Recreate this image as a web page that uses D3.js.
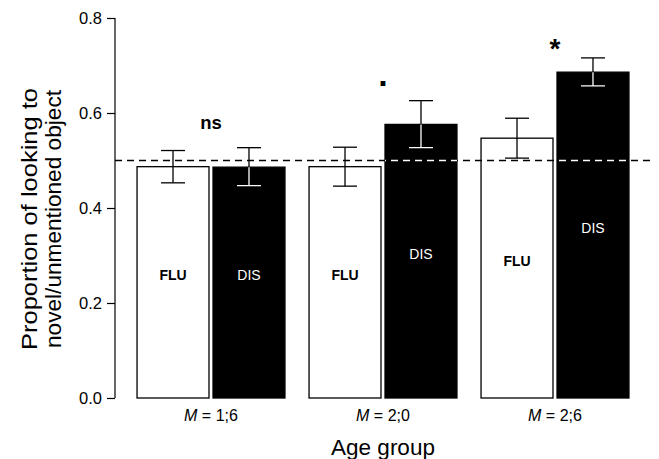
<!DOCTYPE html>
<html>
<head>
<meta charset="utf-8">
<script src="https://cdn.jsdelivr.net/npm/d3@7"></script>
<style>
  body { margin: 0; background: #fff; }
  text { font-family: "Liberation Sans", Arial, Helvetica, sans-serif; }
</style>
</head>
<body>
<div id="chart"></div>
<script>
// data
var groups = ["1;6", "2;0", "2;6"];
var conditions = ["FLU", "DIS"];
var fluMean = [0.487, 0.487, 0.547];
var fluLow  = [0.453, 0.446, 0.505];
var fluHigh = [0.521, 0.528, 0.589];
var disMean = [0.486, 0.576, 0.686];
var disLow  = [0.447, 0.527, 0.657];
var disHigh = [0.527, 0.626, 0.716];
var signif = ["ns", ".", "*"];
var chance = 0.5;
var yTicks = [0, 0.2, 0.4, 0.6, 0.8];

var width = 659, height = 459;

var rows = [];
groups.forEach(function(g, i) {
	rows.push({group: g, cond: "FLU", mean: fluMean[i], lo: fluLow[i], hi: fluHigh[i]});
	rows.push({group: g, cond: "DIS", mean: disMean[i], lo: disLow[i], hi: disHigh[i]});
});

var svg = d3.select("#chart").append("svg").attr("width", width).attr("height", height);

var x0 = d3.scaleBand().domain(groups).range([125, 641]).paddingInner(0.14).paddingOuter(0.07);
var x1 = d3.scaleBand().domain(conditions).range([0, x0.bandwidth()]).paddingInner(0.053);
var y = d3.scaleLinear().domain([0, 0.8]).range([398, 18]);

function bx(d) { return x0(d.group) + x1(d.cond); }
function cx(d) { return bx(d) + x1.bandwidth() / 2; }
function gx(g) { return x0(g) + x0.bandwidth() / 2; }

// y axis
var yAxis = d3.axisLeft(y).tickValues(yTicks).tickFormat(d3.format(".1f")).tickSize(8).tickPadding(5);
var ga = svg.append("g").attr("transform", "translate(115,0)").call(yAxis);
ga.select(".domain").attr("d", "M0," + y(0.8) + "V" + y(0));
ga.selectAll("line").attr("stroke", "#000").attr("stroke-width", 1.2);
ga.select(".domain").attr("stroke", "#000").attr("stroke-width", 1.2);
ga.selectAll("text").attr("font-size", 16.5).attr("fill", "#000")
	.attr("font-family", "'Liberation Sans', Arial, sans-serif");

// bars
svg.append("g").selectAll("rect").data(rows).join("rect")
	.attr("x", bx)
	.attr("y", function(d) { return y(d.mean); })
	.attr("width", x1.bandwidth())
	.attr("height", function(d) { return y(0) - y(d.mean); })
	.attr("fill", function(d) { return d.cond === "DIS" ? "#000" : "#fff"; })
	.attr("stroke", "#000").attr("stroke-width", 1.3);

// clip path of the black bars: anything drawn there in white
var clip = svg.append("clipPath").attr("id", "disclip");
clip.selectAll("rect").data(rows.filter(function(d) { return d.cond === "DIS"; })).join("rect")
	.attr("x", bx)
	.attr("y", function(d) { return y(d.mean); })
	.attr("width", x1.bandwidth())
	.attr("height", function(d) { return y(0) - y(d.mean); });

function drawOverlay(layer, color) {
	// chance line
	layer.append("line")
		.attr("x1", 115).attr("x2", 653)
		.attr("y1", y(chance)).attr("y2", y(chance))
		.attr("stroke", color).attr("stroke-width", 1.5).attr("stroke-dasharray", "7,5");
	// error bars
	var eb = layer.selectAll("g.eb").data(rows).join("g").attr("class", "eb");
	eb.append("line")
		.attr("x1", cx).attr("x2", cx)
		.attr("y1", function(d) { return y(d.lo); })
		.attr("y2", function(d) { return y(d.hi); })
		.attr("stroke", color).attr("stroke-width", 1.3);
	eb.append("line")
		.attr("x1", function(d) { return cx(d) - 12; }).attr("x2", function(d) { return cx(d) + 12; })
		.attr("y1", function(d) { return y(d.hi); }).attr("y2", function(d) { return y(d.hi); })
		.attr("stroke", color).attr("stroke-width", 1.3);
	eb.append("line")
		.attr("x1", function(d) { return cx(d) - 12; }).attr("x2", function(d) { return cx(d) + 12; })
		.attr("y1", function(d) { return y(d.lo); }).attr("y2", function(d) { return y(d.lo); })
		.attr("stroke", color).attr("stroke-width", 1.3);
}
drawOverlay(svg.append("g"), "#000");
drawOverlay(svg.append("g").attr("clip-path", "url(#disclip)"), "#fff");

// labels inside bars
svg.append("g").selectAll("text").data(rows).join("text")
	.attr("x", cx)
	.attr("y", function(d) { return y(d.mean / 2) - 7; })
	.attr("dy", "0.35em")
	.attr("text-anchor", "middle")
	.attr("font-size", 14)
	.attr("font-weight", function(d) { return d.cond === "FLU" ? "bold" : "normal"; })
	.attr("fill", function(d) { return d.cond === "DIS" ? "#fff" : "#000"; })
	.text(function(d) { return d.cond; });

// significance marks, centred on each age group
svg.append("g").selectAll("text").data(groups).join("text")
	.attr("x", gx)
	.attr("y", function(g, i) { return [129, 86, 58][i]; })
	.attr("text-anchor", "middle")
	.attr("font-weight", "bold")
	.attr("font-size", function(g, i) { return [18.5, 34, 28][i]; })
	.attr("fill", "#000")
	.text(function(g, i) { return signif[i]; });

// group labels
var gl = svg.append("g").selectAll("text").data(groups).join("text")
	.attr("x", gx)
	.attr("y", 421)
	.attr("text-anchor", "middle")
	.attr("font-size", 16)
	.attr("fill", "#000");
gl.append("tspan").attr("font-style", "italic").text("M");
gl.append("tspan").text(function(g) { return " = " + g; });

// axis titles
svg.append("text")
	.attr("x", 383).attr("y", 455)
	.attr("text-anchor", "middle")
	.attr("font-size", 22.5)
	.attr("fill", "#000")
	.text("Age group");

var yt = svg.append("g").attr("transform", "translate(0,219) rotate(-90)");
yt.append("text").attr("x", 0).attr("y", 37)
	.attr("text-anchor", "middle").attr("font-size", 22).attr("fill", "#000")
	.attr("textLength", 262).attr("lengthAdjust", "spacingAndGlyphs")
	.text("Proportion of looking to");
yt.append("text").attr("x", 0).attr("y", 61)
	.attr("text-anchor", "middle").attr("font-size", 22).attr("fill", "#000")
	.attr("textLength", 258).attr("lengthAdjust", "spacingAndGlyphs")
	.text("novel/unmentioned object");
</script>
</body>
</html>
